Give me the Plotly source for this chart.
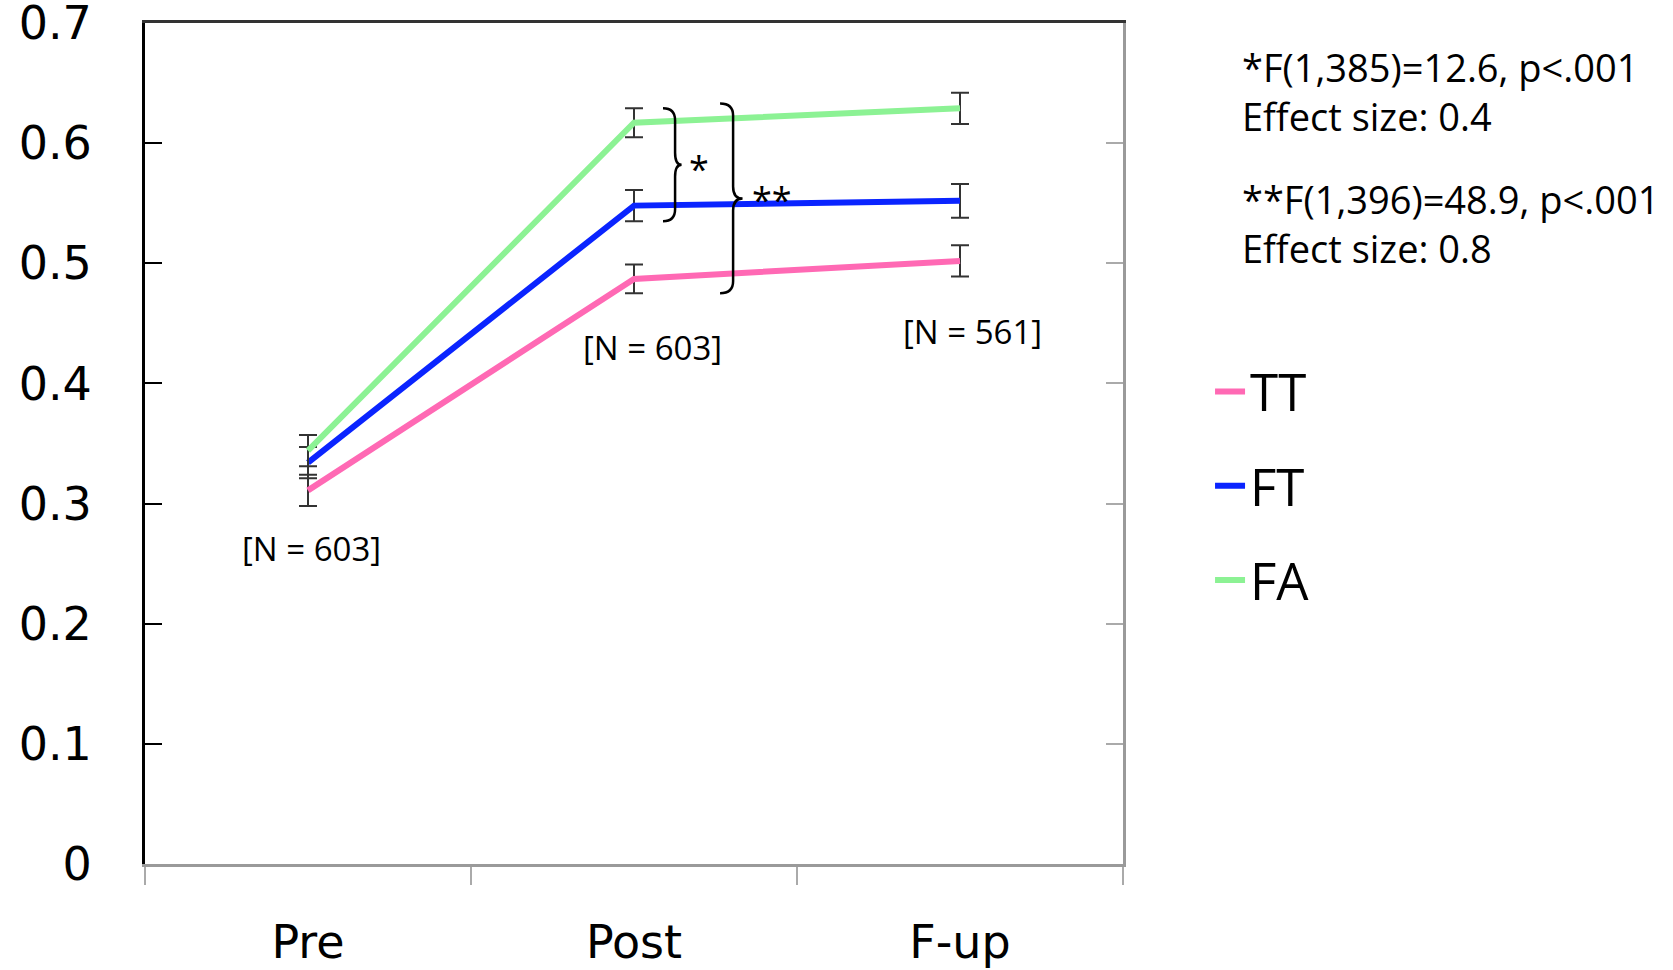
import plotly.graph_objects as go

# ---- data ----
time_points = ["Pre", "Post", "F-up"]
series_names = ["TT", "FT", "FA"]
tt_values = [0.311, 0.487, 0.502]
ft_values = [0.334, 0.548, 0.552]
fa_values = [0.344, 0.617, 0.629]
tt_errors = [0.013, 0.012, 0.013]
ft_errors = [0.013, 0.013, 0.014]
fa_errors = [0.013, 0.012, 0.013]
n_labels = ["[N = 603]", "[N = 603]", "[N = 561]"]
y_ticks = [0, 0.1, 0.2, 0.3, 0.4, 0.5, 0.6, 0.7]
y_tick_labels = ["0", "0.1", "0.2", "0.3", "0.4", "0.5", "0.6", "0.7"]
stats_1 = "*F(1,385)=12.6, p<.001<br>Effect size: 0.4"
stats_2 = "**F(1,396)=48.9, p<.001<br>Effect size: 0.8"

colors = {"TT": "#FF69B4", "FT": "#0A24FF", "FA": "#8CF294"}
values = {"TT": tt_values, "FT": ft_values, "FA": fa_values}
errors = {"TT": tt_errors, "FT": ft_errors, "FA": fa_errors}

x_pos = list(range(len(time_points)))

fig = go.Figure()
for name in series_names:
    fig.add_trace(go.Scatter(
        x=x_pos, y=values[name], name=name, mode="lines",
        line=dict(color=colors[name], width=6),
        error_y=dict(type="data", array=errors[name], visible=True,
                     color="#333333", thickness=2, width=9),
        legendgroup=name,
    ))

# invisible trace to host the mirror axes (top / right borders)
fig.add_trace(go.Scatter(x=[0], y=[0], xaxis="x2", yaxis="y2", mode="markers",
                         marker=dict(opacity=0), showlegend=False, hoverinfo="skip"))

# ---- braces (significance brackets) ----
def brace_path(x0, xs, xt, ytop, ybot, r):
    ymid = (ytop + ybot) / 2
    return (f"M{x0},{ytop} Q{xs},{ytop} {xs},{ytop - r} "
            f"L{xs},{ymid + r} Q{xs},{ymid} {xt},{ymid} "
            f"Q{xs},{ymid} {xs},{ymid - r} "
            f"L{xs},{ybot + r} Q{xs},{ybot} {x0},{ybot}")

b1_top = fa_values[1] + fa_errors[1]
b1_bot = ft_values[1] - ft_errors[1]
b2_top = fa_values[1] + fa_errors[1] + 0.004
b2_bot = tt_values[1] - tt_errors[1]
fig.add_shape(type="path", xref="x", yref="y",
              path=brace_path(1.089, 1.126, 1.146, b1_top, b1_bot, 0.010),
              line=dict(color="black", width=2.5))
fig.add_shape(type="path", xref="x", yref="y",
              path=brace_path(1.264, 1.304, 1.333, b2_top, b2_bot, 0.010),
              line=dict(color="black", width=2.5))

star_font = dict(family="Open Sans", size=36, color="black")
fig.add_annotation(x=1.2, y=(b1_top + b1_bot) / 2, text="*", showarrow=False,
                   xref="x", yref="y", font=star_font, yshift=-4)
fig.add_annotation(x=1.423, y=(b2_top + b2_bot) / 2, text="**", showarrow=False,
                   xref="x", yref="y", font=star_font, yshift=-1)

ann_font = dict(family="Open Sans", size=33, color="black")
n_label_pos = [(0.01, 0.263), (1.058, 0.43), (2.037, 0.443)]
for (xv, yv), lab in zip(n_label_pos, n_labels):
    fig.add_annotation(x=xv, y=yv, text=lab, showarrow=False, xref="x", yref="y",
                       font=ann_font)

stat_font = dict(family="Open Sans", size=38, color="black")
fig.add_annotation(x=1.12, y=0.919, xref="paper", yref="paper", text=stats_1,
                   showarrow=False, xanchor="left", yanchor="middle", align="left",
                   font=stat_font)
fig.add_annotation(x=1.12, y=0.762, xref="paper", yref="paper", text=stats_2,
                   showarrow=False, xanchor="left", yanchor="middle", align="left",
                   font=stat_font)

fig.update_layout(
    width=1673, height=970,
    margin=dict(l=145, r=550, t=23, b=106, autoexpand=False),
    paper_bgcolor="white", plot_bgcolor="white",
    showlegend=True,
    legend=dict(x=1.089, y=0.609, xanchor="left", yanchor="top",
                font=dict(family="Open Sans", size=51, color="black"),
                tracegroupgap=25, bgcolor="rgba(0,0,0,0)"),
    xaxis=dict(range=[-0.5, 2.5], tickvals=x_pos, ticktext=time_points,
               ticks="", showgrid=False, zeroline=False, automargin=False,
               showline=True, linecolor="#9a9a9a", linewidth=3,
               tickfont=dict(family="DejaVu Sans", size=46, color="black"),
               ticklabelstandoff=36, ticklabeloverflow="allow",
               minor=dict(tickvals=[-0.5, 0.5, 1.5, 2.5], ticks="outside",
                          ticklen=18, tickcolor="#aaaaaa", tickwidth=2, showgrid=False)),
    yaxis=dict(range=[0, 0.7], tickvals=y_ticks, ticktext=y_tick_labels,
               ticks="inside", ticklen=17, tickcolor="black", tickwidth=2,
               showgrid=False, zeroline=False, automargin=False,
               showline=True, linecolor="black", linewidth=3,
               tickfont=dict(family="DejaVu Sans", size=46, color="black"),
               ticklabelstandoff=41, ticklabeloverflow="allow"),
    xaxis2=dict(range=[-0.5, 2.5], overlaying="x", side="top", anchor="y2",
                showline=True, linecolor="#333333", linewidth=3, automargin=False,
                showticklabels=False, ticks="", showgrid=False, zeroline=False),
    yaxis2=dict(range=[0, 0.7], overlaying="y", side="right", anchor="x2",
                tickvals=y_ticks, showticklabels=False, automargin=False,
                ticks="inside", ticklen=17, tickcolor="#aaaaaa", tickwidth=2,
                showline=True, linecolor="#9a9a9a", linewidth=3,
                showgrid=False, zeroline=False),
)

fig.write_html("out.html")
